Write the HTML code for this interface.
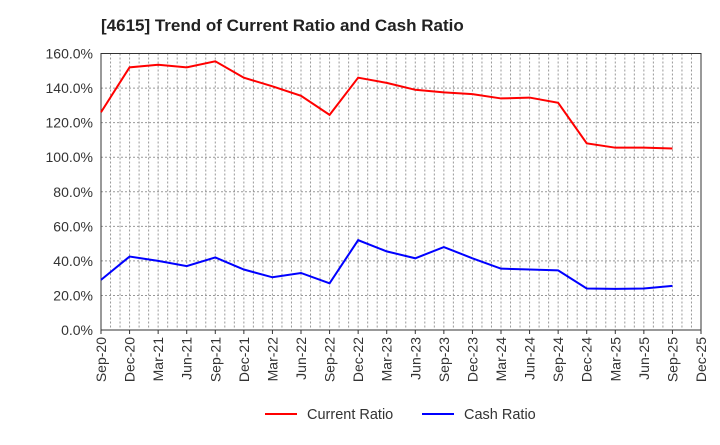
<!DOCTYPE html>
<html><head><meta charset="utf-8"><style>
body{margin:0;background:#fff;width:720px;height:440px;overflow:hidden;font-family:"Liberation Sans",Arial,sans-serif}
</style></head><body>
<svg id="c" width="720" height="440" xmlns="http://www.w3.org/2000/svg" font-family="Liberation Sans, Arial, sans-serif"></svg>
<script>
const L=101,R=701,T=53.5,B=330;
const xs=m=>L+m*(R-L)/63, ys=v=>B-v*(B-T)/160;
let s='<text x="101" y="31" font-size="17" font-weight="bold" fill="#222">[4615]  Trend of Current Ratio and Cash Ratio</text>';
for(let m=1;m<63;m++){s+=`<line x1="${xs(m)}" y1="${T}" x2="${xs(m)}" y2="${B}" stroke="#999" stroke-width="1" stroke-dasharray="2,2"/>`;}
for(let v=20;v<160;v+=20){s+=`<line x1="${L}" y1="${ys(v)}" x2="${R}" y2="${ys(v)}" stroke="#999" stroke-width="1" stroke-dasharray="2,2"/>`;}
for(let v=0;v<=160;v+=20){s+=`<text x="93" y="${ys(v)+5}" font-size="14" text-anchor="end" fill="#333">${v.toFixed(1)}%</text>`;}
const mon=['Mar','Jun','Sep','Dec'];
for(let i=0;i<=21;i++){let q=(i+2)%4,yr=20+Math.floor((i+2)/4);let lab=mon[q]+'-'+yr;let x=xs(i*3);
s+=`<line x1="${x}" y1="${B}" x2="${x}" y2="${B+4}" stroke="#333"/>`;
s+=`<text transform="translate(${x+5},${B+7}) rotate(-90)" font-size="14" text-anchor="end" fill="#333">${lab}</text>`;}
s+=`<rect x="${L}" y="${T}" width="${R-L}" height="${B-T}" fill="none" stroke="#333"/>`;
const cur=[126,152,153.5,152,155.5,146,141,135.5,124.5,146,143,139,137.5,136.5,134,134.5,131.5,108,105.5,105.5,105];
const cash=[29,42.5,40,37,42,35,30.5,33,27,52,45.5,41.5,48,41.5,35.5,35,34.5,24,23.8,24,25.5];
const pl=(d,c)=>`<polyline fill="none" stroke="${c}" stroke-width="2" points="${d.map((v,i)=>xs(i*3)+','+ys(v)).join(' ')}"/>`;
s+=pl(cur,'#ff0000')+pl(cash,'#0000ff');
s+='<line x1="265" y1="414" x2="297" y2="414" stroke="#f00" stroke-width="2"/><text x="307" y="419" font-size="14.5" fill="#333">Current Ratio</text>';
s+='<line x1="422" y1="414" x2="454" y2="414" stroke="#00f" stroke-width="2"/><text x="464" y="419" font-size="14.5" fill="#333">Cash Ratio</text>';
document.getElementById('c').innerHTML=s;
</script>
</body></html>
